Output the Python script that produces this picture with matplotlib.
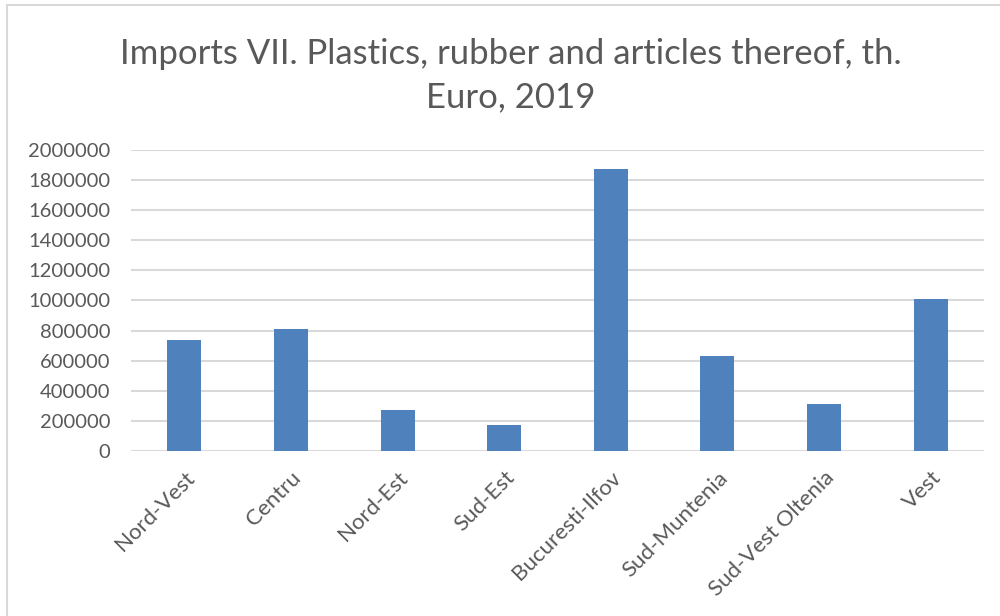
import matplotlib
matplotlib.use("Agg")
import matplotlib.pyplot as plt
from matplotlib.patches import Rectangle

categories = ["Nord-Vest", "Centru", "Nord-Est", "Sud-Est", "Bucuresti-Ilfov",
              "Sud-Muntenia", "Sud-Vest Oltenia", "Vest"]
values = [738000, 809000, 275000, 169000, 1872000, 634000, 309000, 1007000]
yticks = [0, 200000, 400000, 600000, 800000, 1000000, 1200000, 1400000,
          1600000, 1800000, 2000000]
title = "Imports VII. Plastics, rubber and articles thereof, th.\nEuro, 2019"

plt.rcParams['font.family'] = ['Lato', 'DejaVu Sans']
txt = '#595959'

fig = plt.figure(figsize=(10, 6.16), dpi=100)
ax = fig.add_axes([0.131, 0.268, 0.853, 0.4885])

x = list(range(len(categories)))
ax.bar(x, values, width=0.32, color='#4f81bd', zorder=3)
ax.set_xlim(-0.5, len(categories) - 0.5)
ax.set_ylim(0, 2000000)
ax.set_yticks(yticks)
ax.set_yticklabels([str(v) for v in yticks], fontsize=14.5, color=txt)
ax.set_xticks(x)
ax.set_xticklabels(categories, rotation=45, ha='right', rotation_mode='anchor',
                   fontsize=16, color=txt)
ax.tick_params(axis='both', length=0)
ax.tick_params(axis='y', pad=15)
ax.tick_params(axis='x', pad=12)
ax.grid(axis='y', color='#d9d9d9', linewidth=1.5, zorder=0)
for s in ax.spines.values():
    s.set_visible(False)

fig.text(0.511, 0.877, title, ha='center', va='center', fontsize=25,
         color=txt, linespacing=1.42)

fig.patches.append(Rectangle((0.007, -0.1), 1.2, 1.092, transform=fig.transFigure,
                             fill=False, edgecolor='#d9d9d9', linewidth=1.5))

fig.savefig('out.png', dpi=100)
